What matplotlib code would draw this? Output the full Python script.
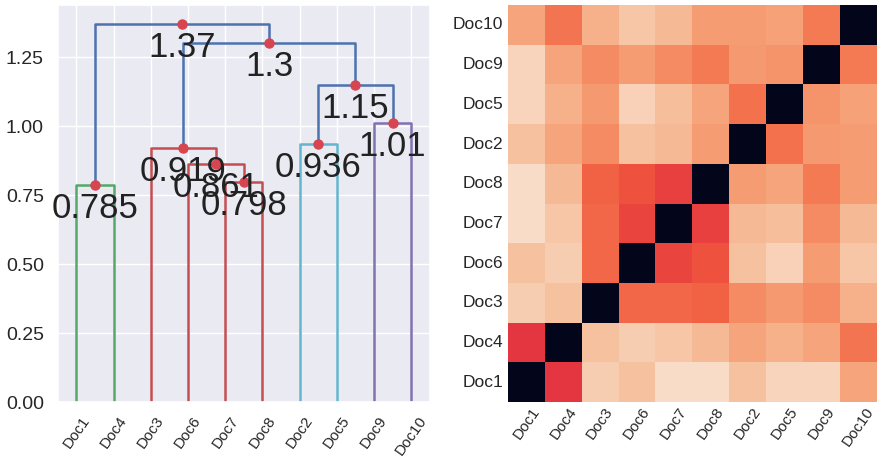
import numpy as np
import pandas as pd
import seaborn as sns
import matplotlib
matplotlib.use("Agg")
import matplotlib.pyplot as plt

sns.set_theme(style="darkgrid")
plt.rcParams['font.family'] = ['Liberation Sans', 'DejaVu Sans']

# leaf order of the dendrogram (also the heatmap order)
leaves = ['Doc1', 'Doc4', 'Doc3', 'Doc6', 'Doc7', 'Doc8', 'Doc2', 'Doc5', 'Doc9', 'Doc10']

# merges: (left child, right child, height); ints refer to earlier merges
merge_left = ['Doc1', 'Doc7', 'Doc6', 'Doc3', 'Doc2', 'Doc9', 4, 3, 0]
merge_right = ['Doc4', 'Doc8', 1, 2, 'Doc5', 'Doc10', 5, 6, 7]
merge_height = [0.785, 0.798, 0.861, 0.919, 0.936, 1.01, 1.15, 1.30, 1.37]
merge_color = ['#55A868', '#C44E52', '#C44E52', '#C44E52', '#64B5CD',
               '#8172B2', '#4C72B0', '#4C72B0', '#4C72B0']

# pairwise distances (upper triangle, in leaf order)
dist_upper = [
    [0.58, 0.92, 0.89, 0.96, 0.96, 0.89, 0.94, 0.94, 0.82],
    [0.89, 0.92, 0.90, 0.87, 0.82, 0.85, 0.82, 0.71],
    [0.68, 0.68, 0.67, 0.76, 0.79, 0.76, 0.85],
    [0.61, 0.64, 0.89, 0.93, 0.80, 0.90],
    [0.60, 0.87, 0.88, 0.76, 0.87],
    [0.80, 0.82, 0.72, 0.80],
    [0.70, 0.79, 0.80],
    [0.78, 0.81],
    [0.72],
]

fig = plt.figure(figsize=(8.77, 4.57), dpi=100)

# ---- dendrogram ----
ax1 = fig.add_axes([0.066, 0.12, 0.424, 0.869])
leaf_x = {name: 10 * i + 5 for i, name in enumerate(leaves)}
node_x = []


def pos(child):
    if isinstance(child, str):
        return leaf_x[child], 0.0
    return node_x[child], merge_height[child]


for l, r, h, c in zip(merge_left, merge_right, merge_height, merge_color):
    xl, yl = pos(l)
    xr, yr = pos(r)
    ax1.plot([xl, xl, xr, xr], [yl, h, h, yr], color=c, lw=1.8)
    node_x.append((xl + xr) / 2)

for x, h in zip(node_x, merge_height):
    ax1.plot(x, h, 'o', color='#D64550', ms=6.5)
    ax1.annotate("%.3g" % h, (x, h), xytext=(0, -5), textcoords='offset points',
                 va='top', ha='center', fontsize=25, color='#222222')

ax1.set_xlim(0, 100)
ax1.set_ylim(0, max(merge_height) * 1.05)
ax1.set_xticks([leaf_x[n] for n in leaves])
ax1.set_xticklabels(leaves, rotation=55, fontsize=11)
ax1.set_yticks([0, 0.25, 0.5, 0.75, 1.0, 1.25])
ax1.set_yticklabels(['0.00', '0.25', '0.50', '0.75', '1.00', '1.25'], fontsize=14)
ax1.tick_params(axis='y', pad=4)
ax1.tick_params(axis='x', pad=2)

# ---- heatmap ----
n = len(leaves)
dist = np.zeros((n, n))
for i, row in enumerate(dist_upper):
    for k, v in enumerate(row):
        dist[i, i + 1 + k] = v
        dist[i + 1 + k, i] = v
df = pd.DataFrame(dist, index=leaves, columns=leaves).iloc[::-1]

ax2 = fig.add_axes([0.579, 0.12, 0.421, 0.869])
sns.heatmap(df, ax=ax2, cmap=sns.color_palette("rocket", as_cmap=True),
            vmin=0, vmax=1, cbar=False)
ax2.set_xticklabels(leaves, rotation=55, fontsize=11)
ax2.set_yticklabels(leaves[::-1], rotation=0, fontsize=12.5)
ax2.tick_params(length=0)
ax2.tick_params(axis='x', pad=2)

fig.savefig("out.png", dpi=100)
